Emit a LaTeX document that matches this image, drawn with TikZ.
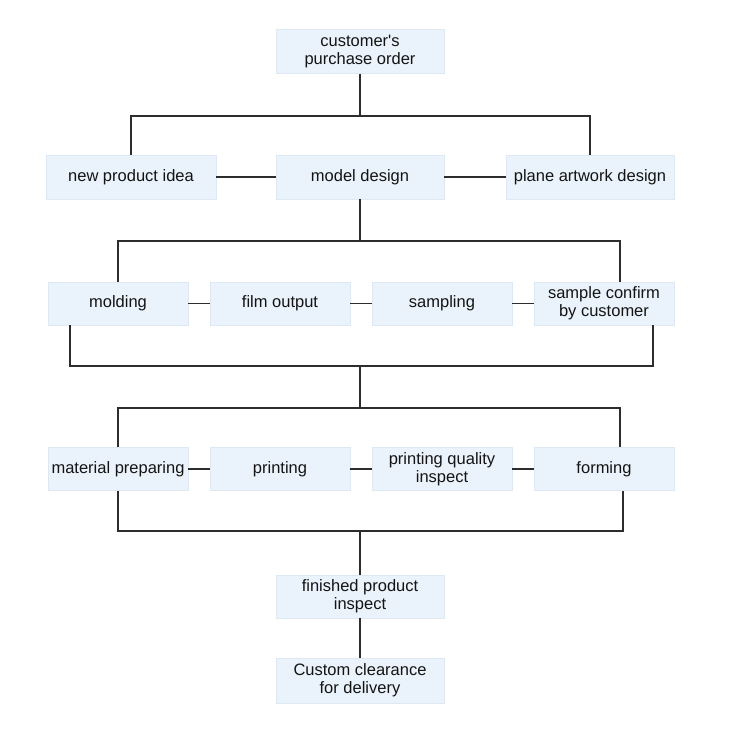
\documentclass[tikz,border=0pt]{standalone}
\usepackage{fontspec}
\setmainfont{Liberation Sans}
\definecolor{boxfill}{RGB}{234,243,251}
\definecolor{boxline}{RGB}{222,232,242}
\definecolor{wire}{RGB}{45,45,45}
\definecolor{ink}{RGB}{20,20,20}
\tikzset{
  stage/.style={draw=boxline, fill=boxfill, text=ink, minimum width=168, minimum height=44,
    align=center, inner sep=0pt, font=\fontsize{16.5}{18}\selectfont},
  small stage/.style={stage, minimum width=140, minimum height=43},
  wire/.style={draw=wire, line width=1.9pt}
}
\begin{document}
\begin{tikzpicture}[x=1pt, y=-1pt]
  \useasboundingbox (0,0) rectangle (730,744);
  %% order
  \node[stage] (order) at (360,51.5) {customer\textquotesingle s\\purchase order};
  %% design row
  \node[stage, minimum width=170] (idea) at (131,177) {new product idea};
  \node[stage] (model) at (360,177) {model design};
  \node[stage] (plane) at (590,177) {plane artwork design};
  %% sample row
  \node[small stage] (mold) at (118,303.5) {molding};
  \node[small stage] (film) at (280,303.5) {film output};
  \node[small stage] (samp) at (442,303.5) {sampling};
  \node[small stage] (confirm) at (604,303.5) {sample confirm\\by customer};
  %% production row
  \node[small stage] (mat) at (118,469) {material preparing};
  \node[small stage] (print) at (280,469) {printing};
  \node[small stage] (pqi) at (442,469) {printing quality\\inspect};
  \node[small stage] (form) at (604,469) {forming};
  %% final steps
  \node[stage, minimum height=43] (fin) at (360,596.5) {finished product\\inspect};
  \node[stage, minimum height=45] (clear) at (360,680.5) {Custom clearance\\for delivery};

  %% buses
  \coordinate (bus1) at (360,116);
  \coordinate (bus2) at (360,241);
  \coordinate (bus3) at (360,366);
  \coordinate (bus4) at (360,408);
  \coordinate (bus5) at (360,531);

  \draw[wire] (order) -- (bus1);
  \draw[wire] (idea) |- (bus1) -| (plane);
  \draw[wire] (idea) -- (model);
  \draw[wire] (model) -- (plane);

  \draw[wire] (model) -- (bus2);
  \draw[wire] (mold) |- (bus2) -| ([xshift=16]confirm.north);
  \draw[wire] (mold) -- (film);
  \draw[wire] (film) -- (samp);
  \draw[wire] (samp) -- (confirm);
  \draw[wire] ([xshift=-48]mold.south) |- (bus3) -| ([xshift=49]confirm.south);
  \draw[wire] (bus3) -- (bus4);

  \draw[wire] (mat) |- (bus4) -| ([xshift=16]form.north);
  \draw[wire] (mat) -- (print);
  \draw[wire] (print) -- (pqi);
  \draw[wire] (pqi) -- (form);
  \draw[wire] (mat) |- (bus5) -| ([xshift=19]form.south);
  \draw[wire] (bus5) -- (fin);
  \draw[wire] (fin) -- (clear);
\end{tikzpicture}
\end{document}
